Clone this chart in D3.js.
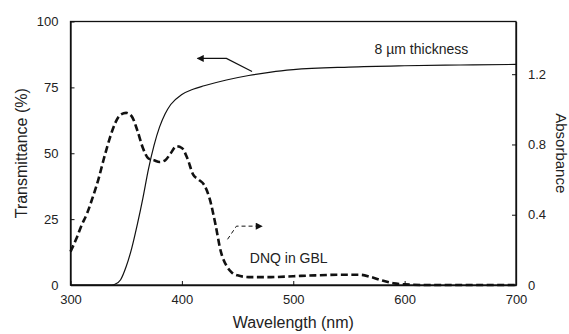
<!DOCTYPE html>
<html>
<head>
<meta charset="utf-8">
<script src="https://cdn.jsdelivr.net/npm/d3@7"></script>
<style>
  body { margin: 0; background: #fff; }
  svg text { font-family: "Liberation Sans", Arial, sans-serif; fill: #222; }
</style>
</head>
<body>
<div id="chart"></div>
<script>
// wavelength (nm) / transmittance (%) of the 8 um film
var transWl = [300, 320, 337, 340, 345, 350, 355, 360, 365, 370, 375, 380, 385, 390, 400, 410, 420, 440, 460, 480, 500, 550, 600, 650, 700];
var transVal = [0, 0, 0, 0.3, 2, 7, 14, 23, 33, 44, 53, 60, 65, 68.5, 72.3, 74.3, 75.6, 77.8, 79.5, 80.8, 81.7, 82.7, 83.2, 83.5, 83.7];

// wavelength (nm) / absorbance of DNQ in GBL
var absWl = [300, 305, 310, 315, 320, 325, 330, 335, 340, 345, 350, 355, 360, 365, 370, 375, 380, 385, 390, 395, 400, 405, 410, 415, 420, 425, 430, 435, 440, 445, 450, 460, 480, 500, 520, 540, 560, 570, 580, 590, 600, 620, 700];
var absVal = [0.19, 0.26, 0.34, 0.41, 0.50, 0.60, 0.72, 0.83, 0.92, 0.97, 0.98, 0.96, 0.88, 0.78, 0.72, 0.71, 0.70, 0.71, 0.75, 0.79, 0.78, 0.72, 0.63, 0.60, 0.57, 0.49, 0.35, 0.19, 0.11, 0.07, 0.055, 0.045, 0.045, 0.05, 0.055, 0.058, 0.058, 0.045, 0.025, 0.01, 0.004, 0, 0];

var xTicks = [300, 400, 500, 600, 700];
var yLeftTicks = [0, 25, 50, 75, 100];
var yRightTicks = [0, 0.4, 0.8, 1.2];

var width = 569, height = 334;
var margin = { top: 21.5, right: 53, bottom: 49, left: 70.5 };

var svg = d3.select('#chart').append('svg')
  .attr('width', width)
  .attr('height', height);

var x = d3.scaleLinear().domain([300, 700]).range([margin.left, width - margin.right]);
var yL = d3.scaleLinear().domain([0, 100]).range([height - margin.bottom, margin.top]);
var yR = d3.scaleLinear().domain([0, 1.5]).range([height - margin.bottom, margin.top]);

// frame
svg.append('rect')
  .attr('x', margin.left).attr('y', margin.top)
  .attr('width', width - margin.left - margin.right)
  .attr('height', height - margin.top - margin.bottom)
  .attr('fill', 'none').attr('stroke', '#111').attr('stroke-width', 1.3);

// axes, ticks pointing inward
var gx = svg.append('g')
  .attr('transform', 'translate(0,' + (height - margin.bottom) + ')')
  .call(d3.axisBottom(x).tickValues(xTicks).tickSizeInner(-4).tickSizeOuter(0).tickPadding(10));
var gl = svg.append('g')
  .attr('transform', 'translate(' + margin.left + ',0)')
  .call(d3.axisLeft(yL).tickValues(yLeftTicks).tickSizeInner(-4).tickSizeOuter(0).tickPadding(12));
var gr = svg.append('g')
  .attr('transform', 'translate(' + (width - margin.right) + ',0)')
  .call(d3.axisRight(yR).tickValues(yRightTicks).tickFormat(d => d === 0 ? '0' : d3.format('.1f')(d)).tickSizeInner(-4).tickSizeOuter(0).tickPadding(12));

[gx, gl, gr].forEach(g => {
  g.select('.domain').attr('stroke', '#111').attr('stroke-width', 1.3);
  g.selectAll('.tick line').attr('stroke', '#111');
  g.selectAll('text').style('font-size', '13px').attr('fill', '#222').style('font-family', '"Liberation Sans", Arial, sans-serif');
});

// curves
var transLine = d3.line()
  .x((d, i) => x(transWl[i]))
  .y(d => yL(d))
  .curve(d3.curveMonotoneX);
svg.append('path')
  .attr('d', transLine(transVal))
  .attr('fill', 'none').attr('stroke', '#111').attr('stroke-width', 1.2);

var absLine = d3.line()
  .x((d, i) => x(absWl[i]))
  .y(d => yR(d))
  .curve(d3.curveMonotoneX);
svg.append('path')
  .attr('d', absLine(absVal))
  .attr('fill', 'none').attr('stroke', '#111').attr('stroke-width', 2.6)
  .attr('stroke-dasharray', '7,3.5');

// arrowheads
var defs = svg.append('defs');
defs.append('marker')
  .attr('id', 'arr').attr('viewBox', '0 0 10 10')
  .attr('refX', 9).attr('refY', 5)
  .attr('markerWidth', 9).attr('markerHeight', 7)
  .attr('markerUnits', 'userSpaceOnUse')
  .attr('orient', 'auto')
  .append('path').attr('d', 'M0,0 L10,5 L0,10 z').attr('fill', '#111');

// annotation: solid -> left axis
svg.append('path')
  .attr('d', 'M' + x(463) + ',' + yL(81) + ' L' + x(440) + ',' + yL(86) + ' L' + x(414) + ',' + yL(86))
  .attr('fill', 'none').attr('stroke', '#111').attr('stroke-width', 1.2)
  .attr('marker-end', 'url(#arr)');
svg.append('text')
  .attr('x', x(573)).attr('y', yL(87.8))
  .style('font-size', '14px')
  .text('8 \u00b5m thickness');

// annotation: dashed -> right axis
svg.append('path')
  .attr('d', 'M' + x(441) + ',' + yR(0.26) + ' L' + x(449) + ',' + yR(0.335) + ' L' + x(472) + ',' + yR(0.335))
  .attr('fill', 'none').attr('stroke', '#111').attr('stroke-width', 1)
  .attr('stroke-dasharray', '4,3')
  .attr('marker-end', 'url(#arr)');
svg.append('text')
  .attr('x', x(461)).attr('y', yR(0.125))
  .style('font-size', '14px')
  .text('DNQ in GBL');

// axis titles
svg.append('text')
  .attr('x', x(500)).attr('y', 328)
  .attr('text-anchor', 'middle')
  .style('font-size', '16px')
  .text('Wavelength (nm)');
svg.append('text')
  .attr('transform', 'translate(27,' + yL(50) + ') rotate(-90)')
  .attr('text-anchor', 'middle')
  .style('font-size', '16px')
  .text('Transmittance (%)');
svg.append('text')
  .attr('transform', 'translate(556,' + yL(50) + ') rotate(90)')
  .attr('text-anchor', 'middle')
  .style('font-size', '15px')
  .text('Absorbance');
</script>
</body>
</html>
